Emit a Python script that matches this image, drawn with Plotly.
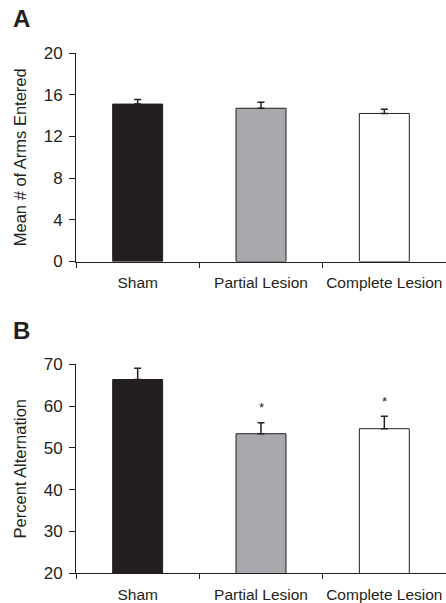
import plotly.graph_objects as go
from plotly.subplots import make_subplots

categories = ["Sham", "Partial Lesion", "Complete Lesion"]
arms_mean = [15.1, 14.7, 14.2]
arms_sem = [0.45, 0.57, 0.4]
alt_mean = [66.4, 53.4, 54.6]
alt_sem = [2.7, 2.6, 3.0]
alt_sig = ["", "*", "*"]
bar_colors = ["#231f20", "#a7a9ac", "#ffffff"]
panel_labels = ["A", "B"]
arms_ticks = [0, 4, 8, 12, 16, 20]
alt_ticks = [20, 30, 40, 50, 60, 70]

INK = "#231f20"
FONT = "Liberation Sans, Arial, sans-serif"

fig = make_subplots(rows=2, cols=1, vertical_spacing=0.198)

for row, (vals, errs) in enumerate([(arms_mean, arms_sem), (alt_mean, alt_sem)], start=1):
    fig.add_trace(go.Bar(
        x=categories, y=vals,
        marker=dict(color=bar_colors, line=dict(color=INK, width=1)),
        error_y=dict(type="data", array=errs, arrayminus=[0] * len(errs),
                     symmetric=False, color=INK, thickness=1.5, width=3.5),
        showlegend=False, hoverinfo="skip",
    ), row=row, col=1)

# significance markers
for cat, m, e, s in zip(categories, alt_mean, alt_sem, alt_sig):
    if s:
        fig.add_annotation(x=cat, y=m + e, text=s, showarrow=False,
                           xref="x2", yref="y2", yanchor="middle", yshift=15,
                           font=dict(size=13, color=INK, family=FONT))

xaxis_common = dict(
    type="category", tickson="boundaries", ticks="outside", ticklen=5,
    tickwidth=1, tickcolor=INK, showline=True, linecolor=INK, linewidth=1,
    showgrid=False, zeroline=False, range=[-0.5, 2.5], tickangle=0,
    automargin=False, ticklabelstandoff=7,
    tickfont=dict(size=15.5, color=INK, family=FONT),
)
fig.update_xaxes(**xaxis_common)

yaxis_common = dict(
    ticks="outside", ticklen=6, tickwidth=1, tickcolor=INK, automargin=False,
    showline=True, linecolor=INK, linewidth=1, showgrid=False, zeroline=False,
    ticklabelstandoff=3,
    tickfont=dict(size=17, color=INK, family=FONT),
)
fig.update_yaxes(**yaxis_common)
fig.update_yaxes(range=[0, 20], tickvals=arms_ticks, row=1, col=1,
                 title=dict(text="Mean # of Arms Entered", standoff=12,
                            font=dict(size=16.5, color=INK, family=FONT)))
fig.update_yaxes(range=[20, 70], tickvals=alt_ticks, row=2, col=1,
                 title=dict(text="Percent Alternation", standoff=12,
                            font=dict(size=16.5, color=INK, family=FONT)))

fig.add_annotation(text=f"<b>{panel_labels[0]}</b>", xref="paper", yref="paper",
                   x=-0.175, y=1.067, xanchor="left", yanchor="middle",
                   showarrow=False, font=dict(size=24, color=INK, family=FONT))
fig.add_annotation(text=f"<b>{panel_labels[1]}</b>", xref="paper", yref="paper",
                   x=-0.175, y=0.467, xanchor="left", yanchor="middle",
                   showarrow=False, font=dict(size=24, color=INK, family=FONT))

fig.update_layout(
    width=446, height=603,
    margin=dict(l=76, r=0, t=53, b=30),
    bargap=0.595,
    plot_bgcolor="white", paper_bgcolor="white",
    font=dict(family=FONT, color=INK),
)

# remove the default 8px page margin so the figure fills the window exactly
fig.write_html("out.html", config={"displayModeBar": False},
               post_script="document.body.style.margin='0';document.body.style.overflow='hidden';")
